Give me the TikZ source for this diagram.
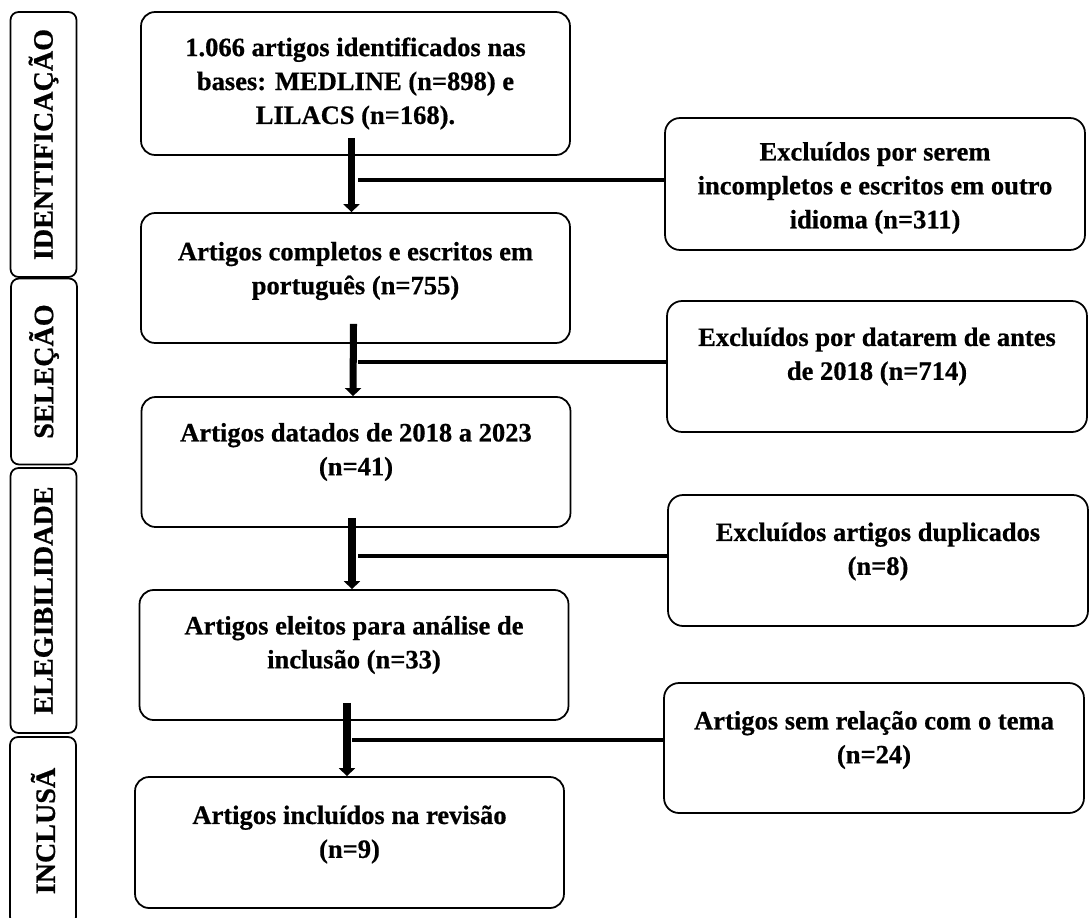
\documentclass[tikz,border=0pt]{standalone}
\usepackage{fontspec}
\setmainfont{Liberation Serif}[BoldFeatures={FakeBold=0.6}]
\usetikzlibrary{arrows.meta,calc}

\begin{document}
\begin{tikzpicture}[x=0.02cm,y=-0.02cm,
  every node/.style={font=\fontsize{15.1}{19.3}\selectfont\bfseries},
  box/.style={draw,line width=1pt,rounded corners=0.28cm,minimum width=8.58cm,minimum height=2.6cm},
  sidebox/.style={draw,line width=1pt,rounded corners=0.3cm,minimum width=8.4cm,minimum height=2.62cm},
  phase/.style={draw,line width=1pt,rounded corners=0.16cm,rotate=90,minimum height=1.32cm,
    font=\fontsize{16}{19.3}\selectfont\bfseries},
  txt/.style={align=center,inner sep=0pt},
  flow/.style={line width=4pt,-{Triangle[width=0.32cm,length=0.16cm]}},
  cut/.style={line width=2.3pt}]
\useasboundingbox (0,0) rectangle (1089,917);

\node[phase,minimum width=5.3cm] (lab1) at (43.5,144.5) {IDENTIFICAÇÃO};
\node[phase,minimum width=3.72cm] (lab2) at (44,371.5) {SELEÇÃO};
\node[phase,minimum width=5.3cm] (lab3) at (43.5,600.5) {ELEGIBILIDADE};
\node[phase,minimum width=3.76cm] (lab4) at (43,831) {INCLUSÃ};

\node[box,minimum height=2.86cm] (a1) at (355.5,83.5) {};
\node[txt] (a1t) at ([yshift=0.0cm]a1.center) {1.066 artigos identificados nas\\bases: MEDLINE (n=898) e\\LILACS (n=168).};
\node[box] (a2) at (355.5,278) {};
\node[txt] (a2t) at ([yshift=0.14cm]a2.center) {Artigos completos e escritos em\\português (n=755)};
\node[box] (a3) at (356,462) {};
\node[txt] (a3t) at ([yshift=0.2cm]a3.center) {Artigos datados de 2018 a 2023\\(n=41)};
\node[box] (a4) at (354,655) {};
\node[txt] (a4t) at ([yshift=0.2cm]a4.center) {Artigos eleitos para análise de\\inclusão (n=33)};
\node[box,minimum height=2.62cm] (a5) at (349.5,842.5) {};
\node[txt] (a5t) at ([yshift=0.16cm]a5.center) {Artigos incluídos na revisão\\(n=9)};

\node[sidebox,minimum height=2.64cm] (s1) at (875,184) {};
\node[txt] (s1t) at ([yshift=-0.08cm]s1.center) {Excluídos por serem\\incompletos e escritos em outro\\idioma (n=311)};
\node[sidebox] (s2) at (877,366.5) {};
\node[txt] (s2t) at ([yshift=0.2cm]s2.center) {Excluídos por datarem de antes\\de 2018 (n=714)};
\node[sidebox] (s3) at (878,560.5) {};
\node[txt] (s3t) at ([yshift=0.18cm]s3.center) {Excluídos artigos duplicados\\(n=8)};
\node[sidebox,minimum height=2.6cm] (s4) at (874,748) {};
\node[txt] (s4t) at ([yshift=0.16cm]s4.center) {Artigos sem relação com o tema\\(n=24)};

\draw[flow] ($(a1.south)+(-4,-18)$) -- ($(a2.north)+(-4,0)$);
\draw[flow] ($(a2.south)+(-2,-20)$) -- ($(a3.north)+(-3,0)$);
\draw[flow] ($(a3.south)+(-4,-10)$) -- ($(a4.north)+(-2,0)$);
\draw[flow] ($(a4.south)+(-7,-18)$) -- ($(a5.north)+(-2.5,0)$);

\coordinate (j1) at (358,180);
\coordinate (j2) at (358,362);
\coordinate (j3) at (358,556);
\coordinate (j4) at (352,740);
\draw[cut] (j1) -- (j1 -| s1.west);
\draw[cut] (j2) -- (j2 -| s2.west);
\draw[cut] (j3) -- (j3 -| s3.west);
\draw[cut] (j4) -- (j4 -| s4.west);
\end{tikzpicture}
\end{document}
